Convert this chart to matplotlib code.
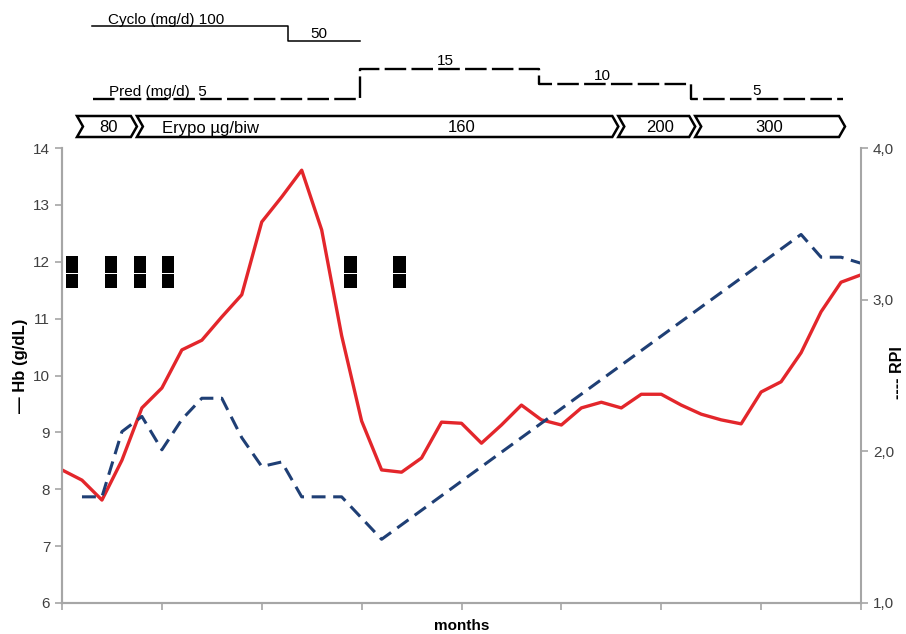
import numpy as np
import matplotlib.pyplot as plt
from matplotlib.patches import Polygon
from matplotlib.transforms import blended_transform_factory

plt.rcParams['font.family'] = ['Liberation Sans', 'DejaVu Sans']
plt.rcParams['lines.scale_dashes'] = False

# Hb (g/dL), one value per time point
hb = [8.34, 8.16, 7.81, 8.51, 9.43, 9.78, 10.45, 10.62, 11.03, 11.42,
      12.70, 13.14, 13.61, 12.56, 10.70, 9.20, 8.34, 8.30, 8.55, 9.18,
      9.16, 8.81, 9.13, 9.48, 9.22, 9.13, 9.43, 9.53, 9.43, 9.67,
      9.67, 9.48, 9.32, 9.22, 9.15, 9.71, 9.89, 10.40, 11.12, 11.64, 11.77]

# RPI, only measured points
rpi_x = [1, 2, 3, 4, 5, 6, 7, 8, 9, 10, 11, 12, 13, 14, 15, 16, 37, 38, 39, 40]
rpi = [1.70, 1.70, 2.13, 2.23, 2.01, 2.21, 2.35, 2.35, 2.09, 1.90,
       1.93, 1.70, 1.70, 1.70, 1.56, 1.42, 3.43, 3.28, 3.28, 3.24]

# transfusion markers
transfusion_x = [0.5, 2.45, 3.9, 5.3, 14.45, 16.9]

# therapy schedule
cyclo_edges = [1.5, 11.3, 14.9]
cyclo_dose = [100, 50]
pred_edges = [1.55, 14.9, 23.9, 31.5, 39.1]
pred_dose = [5, 15, 10, 5]
erypo_edges = [0.75, 3.75, 27.85, 31.7, 39.2]
erypo_dose = [80, 160, 200, 300]


def step_xy(edges, levels):
    xs, ys = [], []
    for i, lv in enumerate(levels):
        xs += [edges[i], edges[i + 1]]
        ys += [lv, lv]
    return xs, ys


fig = plt.figure(figsize=(9.06, 6.34), dpi=100)
ax = fig.add_axes([62 / 906, 31 / 634, 799 / 906, 455 / 634])
ax2 = ax.twinx()

ax.plot(np.arange(len(hb)), hb, color='#E3262B', lw=2.4, zorder=3)
ax2.plot(rpi_x, rpi, color='#1F3F75', lw=2.2, ls=(0, (10, 5.5)))

ax.bar(transfusion_x, 0.29, bottom=11.81, width=0.62, color='black', zorder=4)
ax.bar(transfusion_x, 0.25, bottom=11.54, width=0.62, color='black', zorder=4)

grey = '#A6A6A6'
ax.set_xlim(0, 40)
ax.set_ylim(6, 14)
ax2.set_ylim(1, 4)
ax.set_xticks(np.arange(0, 41, 5))
ax.set_xticklabels([])
ax.set_yticks(np.arange(6, 15, 1))
ax2.set_yticks([1, 2, 3, 4])
ax2.set_yticklabels(['1,0', '2,0', '3,0', '4,0'])
for a in (ax, ax2):
    a.tick_params(length=5, width=1.2, color=grey, labelcolor='#404040', labelsize=11)
    a.spines['top'].set_visible(False)
    for s in ('left', 'right', 'bottom'):
        a.spines[s].set_color(grey)
        a.spines[s].set_linewidth(1.5)
ax.spines['right'].set_visible(False)

fig.text(21 / 906, 1 - 366 / 634, '— Hb (g/dL)', rotation=90, ha='center', va='center',
         fontweight='bold', fontsize=12)
fig.text(898 / 906, 1 - 373 / 634, '---- RPI', rotation=90, ha='center', va='center',
         fontweight='bold', fontsize=11.5)
fig.text(462 / 906, 1 - 626 / 634, 'months', ha='center', va='center',
         fontweight='bold', fontsize=11)

# schedule drawn above the plot: x in data, y in figure pixels
ov = fig.add_axes([0, 0, 1, 1], zorder=5)
ov.set_xlim(0, 906)
ov.set_ylim(634, 0)
ov.axis('off')
trans = blended_transform_factory(ax.transData, ov.transData)

xs, ys = step_xy(cyclo_edges, [56 - 0.3 * d for d in cyclo_dose])
ov.plot(xs, ys, color='black', lw=1.1, transform=trans)
xs, ys = step_xy(pred_edges, [114 - 3 * d for d in pred_dose])
ov.plot(xs, ys, color='black', lw=1.7, ls=(0, (15.5, 3.8)), transform=trans)

fs = 11
ov.text(108, 24, 'Cyclo (mg/d) %d' % cyclo_dose[0], fontsize=fs, va='baseline')
ov.text(310, 38, '%d' % cyclo_dose[1], fontsize=fs, va='baseline')
ov.text(109, 96, 'Pred (mg/d)  %d' % pred_dose[0], fontsize=fs, va='baseline')
ov.text(437, 65, '%d' % pred_dose[1], fontsize=fs, va='baseline')
ov.text(594, 80, '%d' % pred_dose[2], fontsize=fs, va='baseline')
ov.text(752, 95, '%d' % pred_dose[3], fontsize=fs, va='baseline')

top, bot, d = 116, 137, 0.3
for i in range(len(erypo_dose)):
    x0, x1 = erypo_edges[i], erypo_edges[i + 1]
    pts = [(x0, top), (x1 - d, top), (x1, (top + bot) / 2), (x1 - d, bot),
           (x0, bot), (x0 + d, (top + bot) / 2)]
    ov.add_patch(Polygon(pts, closed=True, fill=False, ec='black', lw=1.8, transform=trans))

fe = 12
ov.text(108, 128, '%d' % erypo_dose[0], fontsize=fe, ha='center', va='center')
ov.text(162, 128, 'Erypo µg/biw', fontsize=fe, ha='left', va='center')
ov.text(462, 128, '%d' % erypo_dose[1], fontsize=fe, ha='center', va='center')
ov.text(660, 128, '%d' % erypo_dose[2], fontsize=fe, ha='center', va='center')
ov.text(769, 128, '%d' % erypo_dose[3], fontsize=fe, ha='center', va='center')

fig.savefig('out.png', dpi=100, facecolor='white')
